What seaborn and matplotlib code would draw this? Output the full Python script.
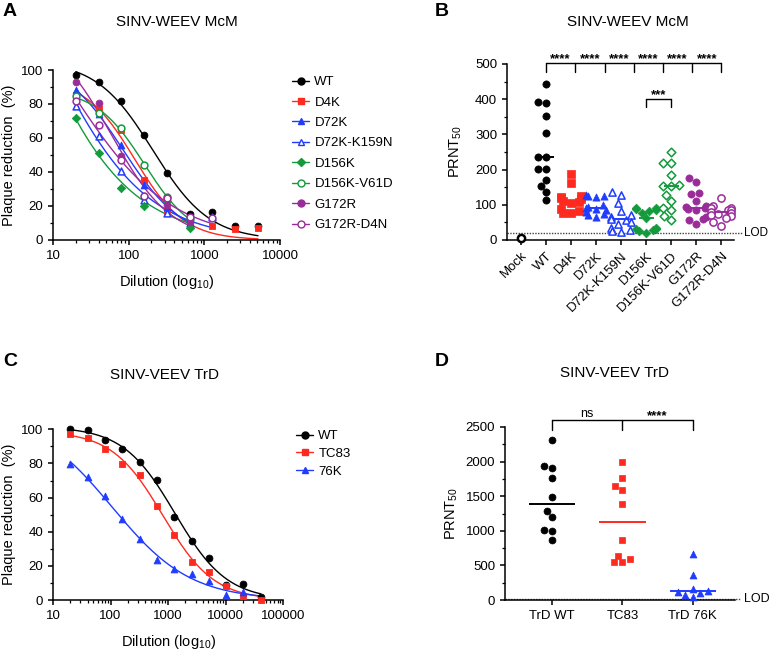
import numpy as np
import pandas as pd
import matplotlib
matplotlib.use("Agg")
import matplotlib.pyplot as plt
import matplotlib.ticker as mticker
from matplotlib.lines import Line2D
import seaborn as sns

# colours
BLACK = "#000000"
RED = "#ff2a1f"
BLUE = "#1f3cff"
GREEN = "#139a3c"
PURPLE = "#9a2c9a"

# ---- panel A: SINV-WEEV McM, plaque reduction vs dilution
dil_a = [20, 40, 80, 160, 320, 640, 1280, 2560, 5120]
a_names = ["WT", "D4K", "D72K", "D72K-K159N", "D156K", "D156K-V61D", "G172R", "G172R-D4N"]
a_wt = [97, 93, 81.5, 61.5, 39.5, 15.5, 16.5, 8, 8]
a_d4k = [85.5, 77, 64.7, 35.3, 17.3, 11, 8.2, 6.2, 6.9]
a_d72k = [88.2, 74, 56, 32.4, 19.6, 12.2]
a_d72k_k159n = [79, 61, 40.6, 23.7, 16, 9.8, 13.6]
a_d156k = [71.6, 51, 30.4, 20, 23, 7.3]
a_d156k_v61d = [84.9, 74.5, 66, 44.1, 25.5, 12.2]
a_g172r = [92.7, 80.4, 49.4, 26.1, 20.6, 10.8]
a_g172r_d4n = [81.8, 67.6, 47, 26, 24.5, 13.7, 13.2]
a_values = [a_wt, a_d4k, a_d72k, a_d72k_k159n, a_d156k, a_d156k_v61d, a_g172r, a_g172r_d4n]
a_style = [("o", BLACK, True), ("s", RED, True), ("^", BLUE, True), ("^", BLUE, False),
           ("D", GREEN, True), ("o", GREEN, False), ("o", PURPLE, True), ("o", PURPLE, False)]

# ---- panel B: SINV-WEEV McM PRNT50
b_groups = ["Mock", "WT", "D4K", "D72K", "D72K-K159N", "D156K", "D156K-V61D", "G172R", "G172R-D4N"]
b_mock = [7]
b_wt = [443, 392, 390, 352, 303, 236, 236, 202, 202, 170, 154, 137, 114]
b_d4k = [187, 162, 125, 122, 120, 115, 112, 108, 105, 88, 82, 78, 76]
b_d72k = [128, 126, 124, 122, 100, 95, 90, 88, 85, 80, 75, 70, 65]
b_d72k_k159n = [135, 128, 105, 82, 70, 65, 60, 57, 50, 45, 35, 28, 25, 22]
b_d156k = [92, 90, 88, 85, 82, 78, 62, 35, 32, 30, 28, 25, 20]
b_d156k_v61d = [251, 220, 218, 185, 155, 153, 152, 128, 112, 90, 86, 68, 57]
b_g172r = [175, 165, 133, 130, 112, 96, 93, 90, 88, 86, 65, 60, 57, 46]
b_g172r_d4n = [120, 96, 92, 90, 86, 84, 80, 78, 75, 72, 68, 62, 52, 40]
b_values = [b_mock, b_wt, b_d4k, b_d72k, b_d72k_k159n, b_d156k, b_d156k_v61d, b_g172r, b_g172r_d4n]
b_style = [("o", BLACK, False), ("o", BLACK, True), ("s", RED, True), ("^", BLUE, True),
           ("^", BLUE, False), ("D", GREEN, True), ("D", GREEN, False), ("o", PURPLE, True),
           ("o", PURPLE, False)]

# ---- panel C: SINV-VEEV TrD, plaque reduction vs dilution
dil_c = [20, 40, 80, 160, 320, 640, 1280, 2560, 5120, 10240, 20480, 40960]
c_names = ["WT", "TC83", "76K"]
c_wt = [100, 99.6, 93.8, 88.5, 81, 70.5, 48.4, 34.8, 24.8, 8.6, 9.4, 2]
c_tc83 = [97, 95.1, 88.7, 79.9, 73, 55.3, 37.9, 22.5, 16.6, 8.2, 2.5, 0.3]
c_76k = [79.9, 71.9, 60.7, 47.5, 35.5, 23.4, 18.4, 15, 11.3, 2.9, 4.9]
c_values = [c_wt, c_tc83, c_76k]
c_style = [("o", BLACK, True), ("s", RED, True), ("^", BLUE, True)]

# ---- panel D: SINV-VEEV TrD PRNT50
d_groups = ["TrD WT", "TC83", "TrD 76K"]
d_wt = [2308, 1933, 1904, 1769, 1495, 1288, 1202, 1005, 995, 861]
d_tc83 = [1995, 1765, 1644, 1596, 1389, 865, 639, 591, 543, 543]
d_76k = [663, 360, 159, 130, 120, 96, 72, 48]
d_values = [d_wt, d_tc83, d_76k]
d_style = [("o", BLACK, True), ("s", RED, True), ("^", BLUE, True)]

LOD = 20


def fit_curve(x, y):
    # 3-parameter logistic (bottom = 0), brute-force least squares
    lx = np.log10(np.asarray(x, float))
    y = np.asarray(y, float)
    lc = np.linspace(0.5, 5.5, 501)[:, None, None]
    h = np.linspace(0.2, 4.0, 191)[None, :, None]
    g = 1.0 / (1.0 + 10 ** (h * (lx - lc)))
    top = (g * y).sum(-1) / (g * g).sum(-1)
    sse = ((top[..., None] * g - y) ** 2).sum(-1)
    i, j = np.unravel_index(sse.argmin(), sse.shape)
    return top[i, j], lc[i, 0, 0], h[0, j, 0]


sns.set_theme(style="ticks")
plt.rcParams["font.family"] = ["Liberation Sans", "DejaVu Sans"]
plt.rcParams.update({
    "axes.linewidth": 1.1,
    "xtick.major.width": 1.1, "ytick.major.width": 1.1,
    "xtick.minor.width": 0.9, "ytick.minor.width": 0.9,
    "xtick.major.size": 3.5, "ytick.major.size": 3.5,
    "xtick.minor.size": 2.0, "ytick.minor.size": 2.0,
    "xtick.labelsize": 9.5, "ytick.labelsize": 9.5,
    "axes.labelsize": 10.5,
    "xtick.color": "black", "ytick.color": "black",
    "axes.edgecolor": "black", "text.color": "black", "axes.labelcolor": "black",
    "mathtext.default": "regular",
})

fig = plt.figure(figsize=(7.72, 6.5), dpi=100)
axA = fig.add_axes([0.0687, 0.6308, 0.294, 0.2615])
axB = fig.add_axes([0.6567, 0.6308, 0.294, 0.2708])
axC = fig.add_axes([0.0687, 0.0769, 0.298, 0.2626])
axD = fig.add_axes([0.654, 0.0769, 0.298, 0.2662])


def curve_panel(ax, dil, values, styles, names, xmax, curve_end=None):
    handles = []
    for vals, (m, c, filled), name in zip(values, styles, names):
        x = dil[:len(vals)]
        top, lc, h = fit_curve(x, vals)
        x_end = curve_end if curve_end else x[-1]
        xs = np.logspace(np.log10(x[0]), np.log10(x_end), 200)
        ys = top / (1 + 10 ** (h * (np.log10(xs) - lc)))
        sns.lineplot(x=xs, y=ys, color=c, lw=1.0, ax=ax, zorder=2)
        sns.scatterplot(x=x, y=vals, marker=m, s=24 if m != "D" else 18, color=c,
                        facecolor=c if filled else "white", edgecolor=c,
                        linewidth=0.6 if filled else 1.1, ax=ax, zorder=3, clip_on=False)
        handles.append(Line2D([0], [0], color=c, lw=1.0, marker=m,
                              markersize=5.0 if m != "D" else 4.2,
                              markerfacecolor=c if filled else "white",
                              markeredgecolor=c, markeredgewidth=1.0))
    ax.set_xscale("log")
    ax.set_xlim(10, xmax)
    ax.set_ylim(0, 100)
    ax.set_yticks(range(0, 101, 20))
    ax.yaxis.set_minor_locator(mticker.MultipleLocator(10))
    ax.xaxis.set_major_formatter(mticker.FuncFormatter(lambda v, p: f"{v:g}"))
    ax.xaxis.set_minor_formatter(mticker.NullFormatter())
    ax.set_xlabel("Dilution (log$_{10}$)", labelpad=8)
    ax.set_ylabel("Plaque reduction  (%)", labelpad=4)
    sns.despine(ax=ax)
    return handles


hA = curve_panel(axA, dil_a, a_values, a_style, a_names, 10000)
fig.legend(hA, a_names, loc="upper left", bbox_to_anchor=(292 / 772, 1 - 76 / 650),
           frameon=False, fontsize=9.5, handlelength=1.3, handletextpad=0.4,
           labelspacing=0.62, borderpad=0, borderaxespad=0)

hC = curve_panel(axC, dil_c, c_values, c_style, c_names, 100000, curve_end=40960)
fig.legend(hC, c_names, loc="upper left", bbox_to_anchor=(296 / 772, 1 - 430 / 650),
           frameon=False, fontsize=9.5, handlelength=1.3, handletextpad=0.4,
           labelspacing=0.42, borderpad=0, borderaxespad=0)


def dot_panel(ax, groups, values, styles, size, half):
    for i, (vals, (m, c, filled)) in enumerate(zip(values, styles)):
        sub = pd.DataFrame({"group": groups[i], "value": vals})
        sns.swarmplot(data=sub, x="group", y="value", order=groups, marker=m,
                      size=size if m != "D" else size - 0.8,
                      color=c if filled else "white", edgecolor=c,
                      linewidth=0.5 if filled else 1.1, ax=ax, zorder=3, clip_on=False)
        if len(vals) > 1:
            ax.hlines(np.median(vals), i - half, i + half, color=c, lw=1.4, zorder=4)


def bracket(ax, x0, x1, ticks, y, drop):
    ax.plot([x0, x1], [y, y], color="black", lw=1.0, clip_on=False)
    for t in ticks:
        ax.plot([t, t], [y, y - drop], color="black", lw=1.0, clip_on=False)


# panel B
dot_panel(axB, b_groups, b_values, b_style, 5.2, 0.3)
# Mock drawn as a heavier open circle
axB.collections[0].set_linewidth(1.8)
axB.set_xlim(-0.56, 8.5)
axB.set_ylim(0, 500)
axB.set_yticks(range(0, 501, 100))
axB.yaxis.set_minor_locator(mticker.MultipleLocator(50))
axB.set_xticks(range(len(b_groups)))
axB.set_xticklabels(b_groups, rotation=45, ha="right", rotation_mode="anchor")
axB.set_xlabel("")
axB.set_ylabel("PRNT$_{50}$", labelpad=8)
axB.plot([-0.56, 8.85], [LOD, LOD], ls=(0, (1, 1)), color="#444444", lw=1.0, clip_on=False, zorder=1)
axB.text(8.92, LOD, "LOD", ha="left", va="center", fontsize=8.5)
tk = np.linspace(1, 8, 7)
bracket(axB, 1, 8, tk, 503, 26)
for a, b in zip(tk[:-1], tk[1:]):
    axB.text((a + b) / 2, 506, "****", ha="center", va="baseline", fontsize=9.5, fontweight="bold")
bracket(axB, 5, 6, [5, 6], 400, 22)
axB.text(5.5, 403, "***", ha="center", va="baseline", fontsize=9.5, fontweight="bold")
sns.despine(ax=axB)

# panel D
dot_panel(axD, d_groups, d_values, d_style, 5.0, 0.33)
axD.set_xlim(-0.67, 2.6)
axD.set_ylim(0, 2500)
axD.set_yticks(range(0, 2501, 500))
axD.yaxis.set_minor_locator(mticker.MultipleLocator(250))
axD.set_xlabel("")
axD.set_ylabel("PRNT$_{50}$", labelpad=4)
axD.plot([-0.67, 2.68], [LOD, LOD], ls=(0, (1, 1)), color="#444444", lw=1.0, clip_on=False, zorder=1)
axD.text(2.73, LOD, "LOD", ha="left", va="center", fontsize=9)
bracket(axD, 0, 2, [0, 1, 2], 2600, 145)
axD.text(0.5, 2640, "ns", ha="center", va="baseline", fontsize=9)
axD.text(1.5, 2620, "****", ha="center", va="baseline", fontsize=9.5, fontweight="bold")
sns.despine(ax=axD)

# titles and panel letters
fig.text(177 / 772, 1 - 22 / 650, "SINV-WEEV McM", ha="center", va="center", fontsize=11)
fig.text(628 / 772, 1 - 22 / 650, "SINV-WEEV McM", ha="center", va="center", fontsize=11)
fig.text(164 / 772, 1 - 375 / 650, "SINV-VEEV TrD", ha="center", va="center", fontsize=11)
fig.text(614 / 772, 1 - 373 / 650, "SINV-VEEV TrD", ha="center", va="center", fontsize=11)
for x, y, s in [(3, 11, "A"), (435, 11, "B"), (3, 362, "C"), (435, 362, "D")]:
    fig.text(x / 772, 1 - y / 650, s, ha="left", va="center", fontsize=14, fontweight="bold")

fig.savefig("out.png", dpi=100)
